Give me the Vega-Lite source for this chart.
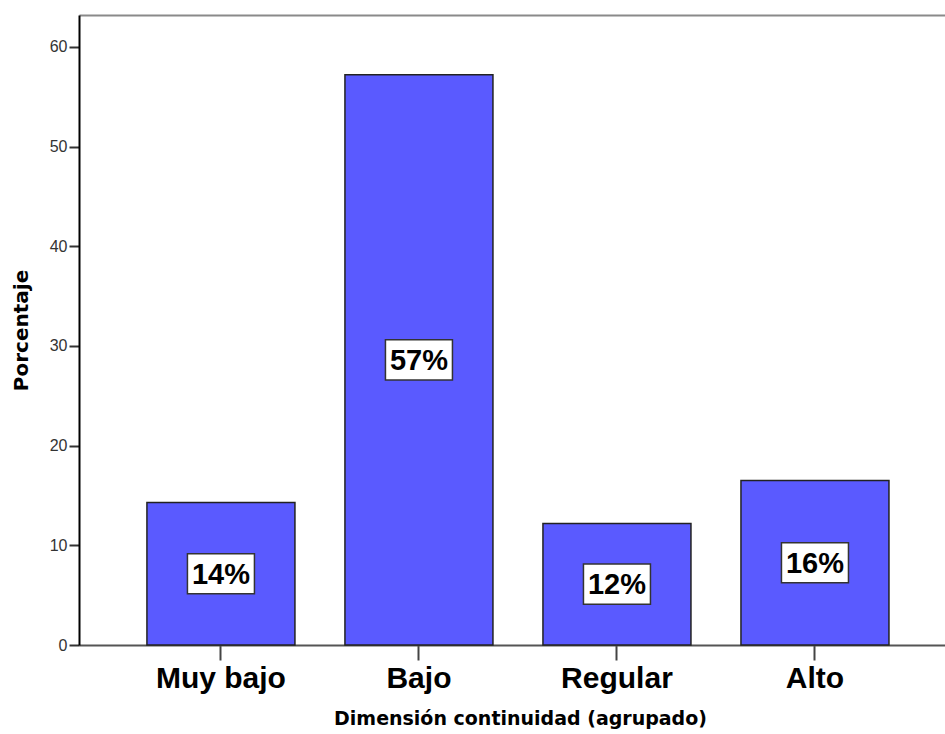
{
  "$schema": "https://vega.github.io/schema/vega-lite/v6.json",
  "width": 866,
  "height": 630,
  "autosize": {"type": "none"},
  "padding": {"left": 79, "top": 15, "right": 0, "bottom": 89},
  "background": "white",
  "config": {"view": {"stroke": null}},
  "data": {
    "values": [
      {"cat": "Muy bajo", "pct": 14.3, "label": "14%"},
      {"cat": "Bajo", "pct": 57.2, "label": "57%"},
      {"cat": "Regular", "pct": 12.2, "label": "12%"},
      {"cat": "Alto", "pct": 16.5, "label": "16%"}
    ]
  },
  "transform": [{"calculate": "datum.pct / 2", "as": "mid"}],
  "resolve": {"axis": {"x": "independent"}},
  "layer": [
    {
      "mark": {"type": "bar", "fill": "#5a5aff", "stroke": "#222", "strokeWidth": 1.5},
      "encoding": {
        "x": {
          "field": "cat",
          "type": "nominal",
          "sort": null,
          "scale": {"paddingInner": 0.2525, "paddingOuter": 0.313, "align": 0.548},
          "axis": {
            "labelAngle": 0,
            "labelFont": "Liberation Sans",
            "labelFontSize": 30,
            "labelFontWeight": "bold",
            "labelColor": "#000",
            "labelPadding": 3,
            "tickSize": 15,
            "tickWidth": 2,
            "tickColor": "#444",
            "domainColor": "#555",
            "domainWidth": 2,
            "title": "Dimensión continuidad (agrupado)",
            "titleFont": "DejaVu Sans",
            "titleFontSize": 19,
            "titleFontWeight": "bold",
            "titleColor": "#000",
            "titlePadding": 16,
            "titleX": 441
          }
        },
        "y": {
          "field": "pct",
          "type": "quantitative",
          "scale": {"domain": [0, 63.2], "nice": false},
          "axis": {
            "values": [0, 10, 20, 30, 40, 50, 60],
            "grid": false,
            "domainColor": "#000",
            "domainWidth": 2,
            "tickColor": "#333",
            "tickWidth": 2,
            "tickSize": 10,
            "labelFont": "Liberation Sans",
            "labelFontSize": 16,
            "labelColor": "#333",
            "labelPadding": 2,
            "title": "Porcentaje",
            "titleFont": "DejaVu Sans",
            "titleFontSize": 20,
            "titleFontWeight": "bold",
            "titleColor": "#000",
            "titlePadding": 18
          }
        }
      }
    },
    {
      "mark": {
        "type": "point",
        "shape": "M-1,-0.6L1,-0.6L1,0.6L-1,0.6Z",
        "size": 4489,
        "filled": true,
        "fill": "white",
        "stroke": "#333",
        "strokeWidth": 1.5,
        "opacity": 1
      },
      "encoding": {
        "x": {
          "field": "cat",
          "type": "nominal",
          "sort": null,
          "axis": {
            "orient": "top",
            "labels": false,
            "ticks": false,
            "title": null,
            "domainColor": "#8a8a8a",
            "domainWidth": 2
          }
        },
        "y": {"field": "mid", "type": "quantitative"}
      }
    },
    {
      "mark": {
        "type": "text",
        "font": "Liberation Sans",
        "fontSize": 29,
        "fontWeight": "bold",
        "color": "#000",
        "baseline": "middle",
        "align": "center",
        "dy": 1
      },
      "encoding": {
        "x": {"field": "cat", "type": "nominal", "sort": null, "axis": null},
        "y": {"field": "mid", "type": "quantitative"},
        "text": {"field": "label"}
      }
    }
  ]
}
